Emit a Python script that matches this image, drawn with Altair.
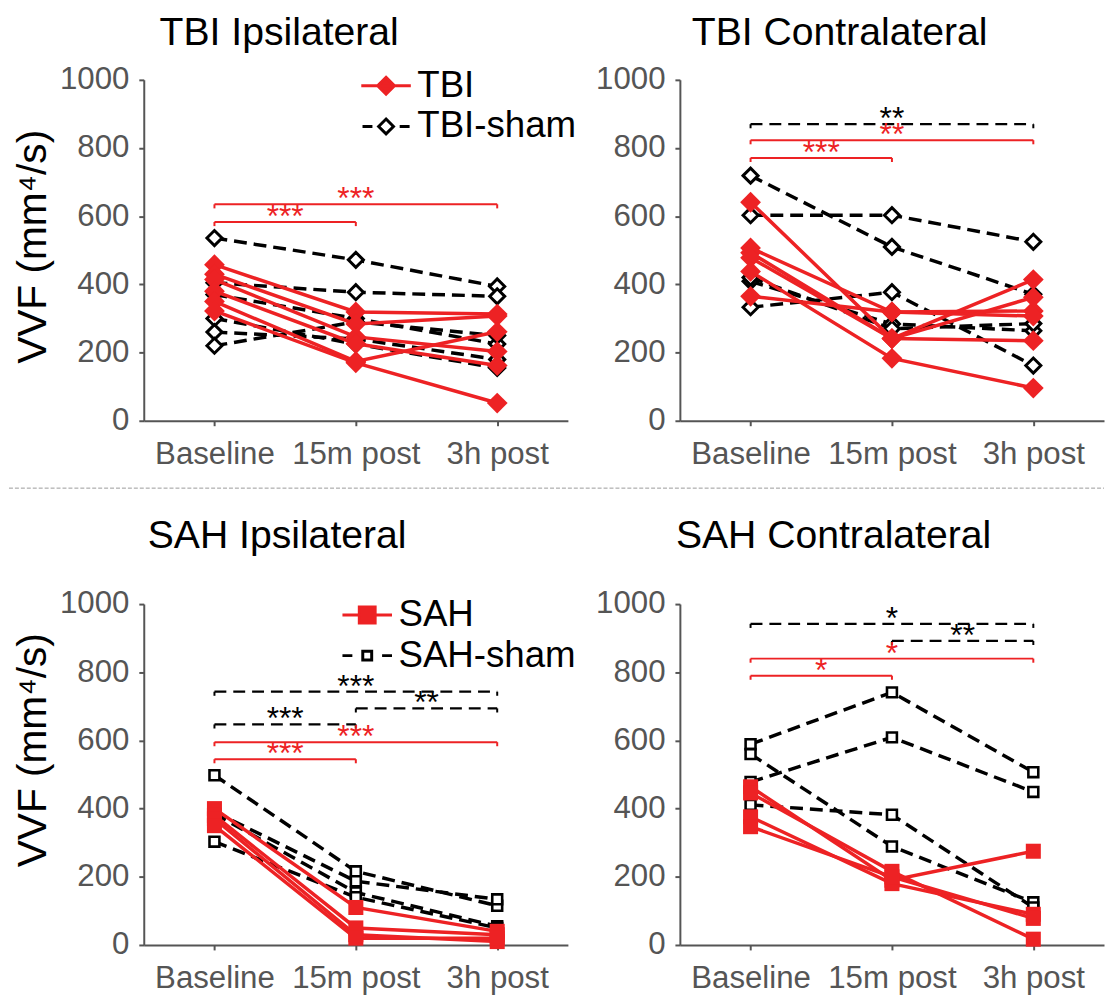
import json
import altair as alt
import pandas as pd

# ---------------- data ----------------
TIMEPOINTS = ["Baseline", "15m post", "3h post"]
Y_TICKS = [0, 200, 400, 600, 800, 1000]

# one inner list per animal: VVF (mm^4/s) at Baseline, 15m post, 3h post
TBI_IPSI_TBI = [[458, 319, 313], [430, 284, 307], [414, 246, 203],
                [380, 226, 162], [350, 174, 261], [322, 170, 52]]
TBI_IPSI_SHAM = [[536, 472, 394], [405, 377, 365], [370, 300, 225],
                 [300, 225, 155], [260, 240, 180], [220, 290, 250]]
TBI_CONTRA_TBI = [[641, 241, 414], [507, 319, 322], [493, 241, 235],
                  [478, 241, 362], [438, 183, 96], [365, 319, 307]]
TBI_CONTRA_SHAM = [[719, 510, 371], [603, 603, 525], [409, 284, 264],
                   [333, 377, 162], [420, 270, 285]]
SAH_IPSI_SAH = [[400, 110, 40], [380, 50, 30], [370, 30, 10], [350, 20, 20]]
SAH_IPSI_SHAM = [[498, 216, 115], [391, 187, 134], [385, 154, 55], [303, 140, 50]]
SAH_CONTRA_SAH = [[464, 190, 275], [446, 216, 17], [376, 180, 90], [347, 200, 78]]
SAH_CONTRA_SHAM = [[589, 741, 507], [478, 609, 449], [560, 289, 125], [411, 382, 110]]

# significance brackets: (from timepoint, to timepoint, level, stars, group)
TBI_IPSI_SIG = [(0, 1, 583, "***", "injured"), (0, 2, 635, "***", "injured")]
TBI_CONTRA_SIG = [(0, 2, 870, "**", "sham"), (0, 2, 823, "**", "injured"),
                  (0, 1, 771, "***", "injured")]
SAH_IPSI_SIG = [(0, 2, 743, "***", "sham"), (1, 2, 694, "**", "sham"),
                (0, 1, 647, "***", "sham"), (0, 2, 595, "***", "injured"),
                (0, 1, 545, "***", "injured")]
SAH_CONTRA_SIG = [(0, 2, 942, "*", "sham"), (1, 2, 892, "**", "sham"),
                  (0, 2, 840, "*", "injured"), (0, 1, 790, "*", "injured")]

TBI_LEGEND = ["TBI", "TBI-sham"]
SAH_LEGEND = ["SAH", "SAH-sham"]
TITLES = ["TBI Ipsilateral", "TBI Contralateral", "SAH Ipsilateral", "SAH Contralateral"]
Y_TITLE = "VVF (mm⁴/s)"

# ---------------- styling ----------------
RED = "#ED2224"
FONT = "Liberation Sans"
W, H = 428, 344
LABEL_EXPR = "[" + ",".join(json.dumps(t) for t in TIMEPOINTS) + "][datum.value]"

LEGEND_PATHS = {
    "diamond": ["M-1,0H1M0,-0.34L0.34,0L0,0.34L-0.34,0Z",
                "M-0.95,0H-0.55M0.55,0H0.95M0,-0.3L0.3,0L0,0.3L-0.3,0Z"],
    "square": ["M-1,0H1M-0.32,-0.32H0.32V0.32H-0.32Z",
               "M-1,0H-0.6M0.6,0H1M-0.18,-0.18H0.18V0.18H-0.18Z"],
}


def xenc(field):
    return alt.X(f"{field}:Q", scale=alt.Scale(domain=[-0.5, 2.5], nice=False, zero=False),
                 axis=alt.Axis(values=[0, 1, 2], labelExpr=LABEL_EXPR, title=None,
                               grid=False, labelPadding=13))


def yenc(field, title_y):
    if title_y is not None:
        ax = alt.Axis(values=Y_TICKS, format="d", grid=False, labelPadding=10, title=Y_TITLE,
                      titleX=-99, titleY=title_y, titleAngle=270,
                      titleBaseline="alphabetic", titleAlign="center")
    else:
        ax = alt.Axis(values=Y_TICKS, format="d", grid=False, labelPadding=10, title=None)
    return alt.Y(f"{field}:Q", scale=alt.Scale(domain=[0, 1000], nice=False), axis=ax)


def long_df(injured, sham):
    rows = []
    for grp, series in (("sham", sham), ("injured", injured)):
        for i, vals in enumerate(series):
            for t, v in enumerate(vals):
                rows.append({"group": grp, "subject": f"{grp}{i}", "t": t, "vvf": v})
    return pd.DataFrame(rows)


def sig_frames(sig):
    br = pd.DataFrame(sig, columns=["x1", "x2", "level", "stars", "group"])
    br["xm"] = (br["x1"] + br["x2"]) / 2
    ticks = []
    for r in br.itertuples():
        for xv in (r.x1, r.x2):
            ticks.append({"x": xv, "level": r.level, "low": r.level - 12, "group": r.group})
    return br, pd.DataFrame(ticks)


def panel(injured, sham, sig, title, marker, title_y, title_dx, title_offset, title_dy,
          legend_names=None, legend_xy=None, separator=False):
    df = long_df(injured, sham)
    br, tk = sig_frames(sig)
    base = alt.Chart(df)
    xe, ye = xenc("t"), yenc("vvf", title_y)
    if marker == "diamond":
        inj_size, sham_size, sham_sw = 440, 230, 3
    else:
        inj_size, sham_size, sham_sw = 230, 100, 2.6

    layers = []
    sham_df = base.transform_filter(alt.datum.group == "sham")
    inj_df = base.transform_filter(alt.datum.group == "injured")
    layers.append(sham_df.mark_line(color="black", strokeWidth=3.5, strokeDash=[13, 7])
                  .encode(x=xe, y=ye, detail="subject:N"))
    layers.append(sham_df.mark_point(shape=marker, filled=True, fill="white", stroke="black",
                                      strokeWidth=sham_sw, size=sham_size, opacity=1)
                  .encode(x=xe, y=ye, detail="subject:N"))
    layers.append(inj_df.mark_line(color=RED, strokeWidth=3.5)
                  .encode(x=xe, y=ye, detail="subject:N"))
    layers.append(inj_df.mark_point(shape=marker, filled=True, color=RED, size=inj_size, opacity=1)
                  .encode(x=xe, y=ye, detail="subject:N"))

    # significance brackets
    for grp, col, dash in (("sham", "black", [12, 7]), ("injured", RED, None)):
        bsub = br[br["group"] == grp]
        tsub = tk[tk["group"] == grp]
        if len(bsub) == 0:
            continue
        if dash:
            hmark = alt.Chart(bsub).mark_rule(color=col, strokeWidth=2.3, strokeDash=dash)
        else:
            hmark = alt.Chart(bsub).mark_rule(color=col, strokeWidth=2)
        layers.append(hmark.encode(x=xenc("x1"), x2=alt.X2("x2:Q"), y=yenc("level", title_y)))
        layers.append(alt.Chart(tsub).mark_rule(color=col, strokeWidth=2)
                      .encode(x=xenc("x"), y=yenc("level", title_y), y2=alt.Y2("low:Q")))
        layers.append(alt.Chart(bsub).mark_text(font=FONT, fontSize=32, color=col,
                                                baseline="alphabetic", align="center", dy=5)
                      .encode(x=xenc("xm"), y=yenc("level", title_y), text="stars:N"))

    if separator:
        layers.append(alt.Chart(pd.DataFrame({"k": [0]}))
                      .mark_rule(color="#9a9a9a", strokeWidth=1, strokeDash=[4, 2])
                      .encode(x=alt.value(-136), x2=alt.value(969), y=alt.value(H + 68)))

    if legend_names:
        paths = LEGEND_PATHS[marker]
        leg = alt.Legend(orient="none", legendX=legend_xy[0], legendY=legend_xy[1], title=None,
                         symbolSize=2500, symbolStrokeWidth=3, symbolOpacity=1,
                         labelFontSize=37, labelFont=FONT, labelColor="black",
                         labelLimit=400, labelOffset=5, clipHeight=38, rowPadding=3,
                         padding=0)
        ldf = pd.DataFrame({"series": legend_names})
        layers.append(alt.Chart(ldf).mark_point(opacity=1, filled=True)
                      .encode(shape=alt.Shape("series:N", scale=alt.Scale(domain=legend_names, range=paths), legend=leg),
                              fill=alt.Fill("series:N", scale=alt.Scale(domain=legend_names, range=[RED, "white"]), legend=leg),
                              stroke=alt.Stroke("series:N", scale=alt.Scale(domain=legend_names, range=[RED, "black"]), legend=leg))
                      .transform_filter("false"))

    return alt.layer(*layers).properties(
        width=W, height=H,
        title=alt.TitleParams(title, dx=title_dx, dy=title_dy, offset=title_offset, anchor="start",
                              frame="group", baseline="alphabetic"))


tl = panel(TBI_IPSI_TBI, TBI_IPSI_SHAM, TBI_IPSI_SIG, TITLES[0], "diamond", 168, 16, 0, 20,
           TBI_LEGEND, (218, -13), separator=True)
tr = panel(TBI_CONTRA_TBI, TBI_CONTRA_SHAM, TBI_CONTRA_SIG, TITLES[1], "diamond", None, 12, 0, 20)
bl = panel(SAH_IPSI_SAH, SAH_IPSI_SHAM, SAH_IPSI_SIG, TITLES[2], "square", 147, 4, 1, 0,
           SAH_LEGEND, (199, -8))
br = panel(SAH_CONTRA_SAH, SAH_CONTRA_SHAM, SAH_CONTRA_SIG, TITLES[3], "square", None, -4, 1, 0)

chart = alt.ConcatChart(
    concat=[tl, tr, bl, br], columns=2, bounds="flush",
    spacing={"row": 185, "column": 113},
).resolve_scale(
    shape="independent", fill="independent", stroke="independent",
    x="independent", y="independent",
).properties(
    padding={"left": 0, "top": 0, "right": 0, "bottom": 0},
).configure(font=FONT).configure_view(strokeWidth=0).configure_axis(
    labelFont=FONT, labelFontSize=31.5, labelColor="#555555",
    domainColor="#555555", tickColor="#555555", domainWidth=2, tickWidth=2, tickSize=5,
    titleFont=FONT, titleFontSize=41, titleFontWeight="normal", titleColor="black",
).configure_title(font=FONT, fontSize=39.5, fontWeight="normal", color="black")

chart.save("out.html", embed_options={"renderer": "svg", "actions": False})
